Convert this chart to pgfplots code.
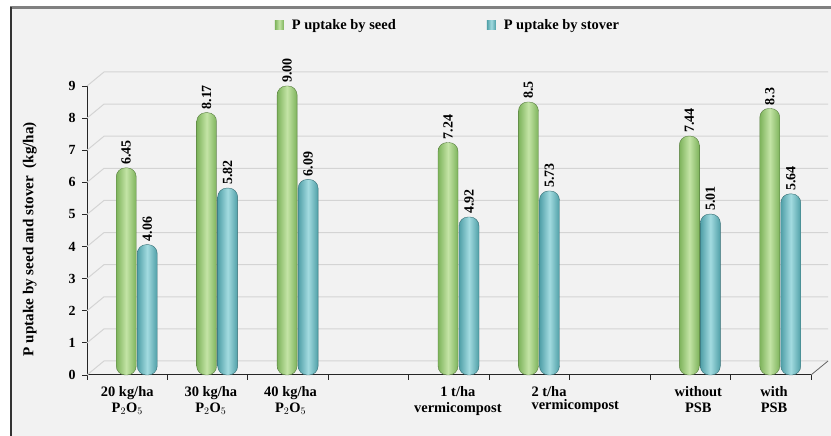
\documentclass[border=0pt]{standalone}
\usepackage{pgfplots}
\pgfplotsset{compat=1.18}
\usepackage{fontspec}
\setmainfont{Liberation Serif}

\definecolor{bgc}{HTML}{F2F2F2}
\definecolor{gridc}{HTML}{D4D4D4}
\definecolor{gdark}{HTML}{7DB35B}
\definecolor{glight}{HTML}{C4E4A6}
\definecolor{tdark}{HTML}{4F9FA7}
\definecolor{tlight}{HTML}{A3DBE0}

\newcommand{\st}{\rule{0pt}{18bp}}

\pgfplotsset{
    gbar/.style = {bar shift=-1bp, draw=gdark!70!black, line width=0.4bp, rounded corners=9bp,
                   left color=gdark, right color=gdark, middle color=glight},
    tbar/.style = {bar shift=20bp, draw=tdark!70!black, line width=0.4bp, rounded corners=9bp,
                   left color=tdark, right color=tdark, middle color=tlight},
}

\begin{document}
\begin{tikzpicture}[x=1bp,y=1bp]
\fill[white] (0,0) rectangle (831,436);
\fill[bgc] (11,0) rectangle (831,428);
\draw[black!50, line width=2.5bp] (10,428.5) -- (831,428.5);
\draw[black!80, line width=1.2bp] (11,0) -- (11,428.5);
\begin{axis}[
    ,at             = {(87bp,61bp)}
    ,anchor         = south west
    ,scale only axis
    ,width          = 724bp
    ,height         = 289bp
    ,clip           = false
    ,ybar
    ,bar width      = 20bp
    ,xmin           = -0.5
    ,xmax           = 8.5
    ,ymin           = 0
    ,ymax           = 9
    ,axis x line*   = bottom
    ,axis y line*   = left
    ,axis line style= {black!85, line width=1bp}
    ,tick align     = outside
    ,major tick length = 5bp
    ,tick style     = {black!85, line width=0.8bp}
    ,xtick          = {-0.5,0.5,...,8.5}
    ,xticklabels    = {}
    ,extra x ticks  = {0,1.04,2.03,4.11,5.57,7.1,8.04}
    ,extra x tick labels = {{\st 20 kg/ha\\P$_2$O$_5$},{\st 30 kg/ha\\P$_2$O$_5$},{\st 40 kg/ha\\P$_2$O$_5$},{\st 1 t/ha\\vermicompost},{\shortstack[l]{\st 2 t/ha\\vermicompost}},{\st without\\PSB},{\st with\\PSB}}
    ,extra x tick style = {major tick length=0bp}
    ,xticklabel style = {font=\fontsize{14.5}{16}\selectfont\bfseries, align=center}
    ,ytick          = {0,1,...,9}
    ,yticklabel style = {font=\fontsize{14}{16}\selectfont\bfseries, xshift=-3bp}
    ,/pgf/number format/assume math mode=true
    ,ylabel         = {P uptake by seed and stover\ \ (kg/ha)}
    ,ylabel style   = {font=\fontsize{15.2}{17}\selectfont\bfseries, at={(axis description cs:-0.079,0.47)}, anchor=center}
    ,nodes near coords
    ,point meta     = explicit symbolic
    ,every node near coord/.append style = {rotate=90, anchor=west, font=\fontsize{14}{16}\selectfont\bfseries, inner sep=3bp}
    ,legend columns = 2
    ,legend style   = {at={(0.4985,1.211)}, anchor=center, draw=none, fill=none,
                       font=\fontsize{14.5}{16}\selectfont\bfseries,
                       /tikz/every even column/.append style={column sep=89bp}}
    ,legend image code/.code = {\path[draw=none, fill=none] (0bp,0bp) (15bp,0bp);
                                \path[#1, draw=none, rounded corners=0pt] (0bp,-4.5bp) rectangle (9bp,4.5bp);}
    ]
    % back wall grid lines with their short floor/wall edges
    \pgfplotsinvokeforeach{0,...,9}{
        \draw[gridc, line width=1bp] (axis cs:-0.5,#1) -- ++(17bp,14bp) -- ([xshift=17bp,yshift=14bp]axis cs:8.5,#1);
    }
    \draw[black!60, line width=0.8bp] (axis cs:8.5,0) -- ++(17bp,14bp);
    % P uptake by seed (one plot per bar so that each bar gets its own shading)
    \addplot [gbar] coordinates {(0,6.45) [6.45]};
    \addlegendentry{P uptake by seed}
    \addplot [gbar, forget plot] coordinates {(1,8.17) [8.17]};
    \addplot [gbar, forget plot] coordinates {(2,9.00) [9.00]};
    \addplot [gbar, forget plot] coordinates {(4,7.24) [7.24]};
    \addplot [gbar, forget plot] coordinates {(5,8.5) [8.5]};
    \addplot [gbar, forget plot] coordinates {(7,7.44) [7.44]};
    \addplot [gbar, forget plot] coordinates {(8,8.3) [8.3]};
    % P uptake by stover
    \addplot [tbar] coordinates {(0,4.06) [4.06]};
    \addlegendentry{P uptake by stover}
    \addplot [tbar, forget plot] coordinates {(1,5.82) [5.82]};
    \addplot [tbar, forget plot] coordinates {(2,6.09) [6.09]};
    \addplot [tbar, forget plot] coordinates {(4,4.92) [4.92]};
    \addplot [tbar, forget plot] coordinates {(5,5.73) [5.73]};
    \addplot [tbar, forget plot] coordinates {(7,5.01) [5.01]};
    \addplot [tbar, forget plot] coordinates {(8,5.64) [5.64]};
\end{axis}
\pgfresetboundingbox
\path[use as bounding box] (0,0) rectangle (831,436);
\end{tikzpicture}
\end{document}
